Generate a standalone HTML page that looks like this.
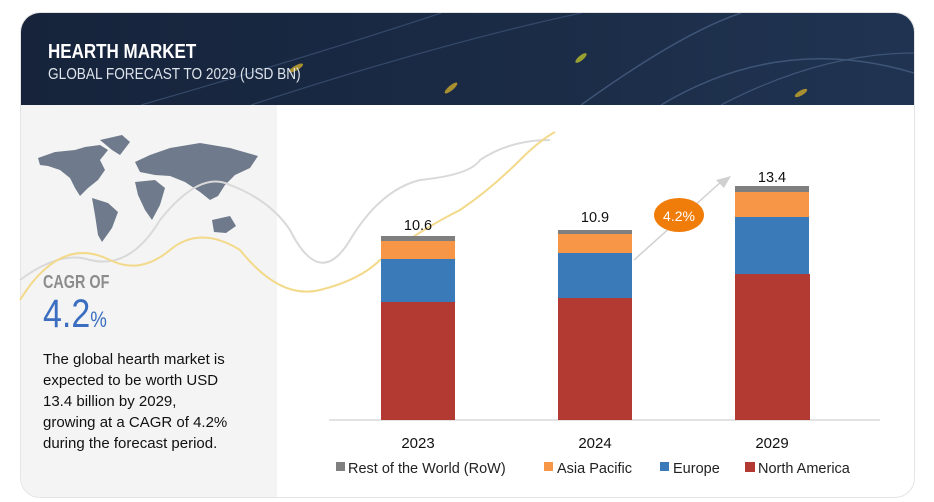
<!DOCTYPE html>
<html><head><meta charset="utf-8"><style>
body{margin:0;width:934px;height:502px;background:#fff;overflow:hidden;font-family:"Liberation Sans",sans-serif;position:relative}
.card{position:absolute;left:20px;top:12px;width:893px;height:484px;border-radius:20px;overflow:hidden;border:1px solid #e4e4e4;background:#fff}
.hdr{position:absolute;left:0;top:0;width:893px;height:92px;background:linear-gradient(90deg,#16233b,#1b2c47 60%,#203452)}
.lp{position:absolute;left:0;top:92px;width:256px;height:392px;background:#f4f4f4}
.t{position:absolute;white-space:nowrap}
</style></head><body>
<div class="card">
<div class="hdr">
<svg width="893" height="92" style="position:absolute;left:0;top:0">
<path d="M120 92 Q300 40 420 0" stroke="#34496a" stroke-width="1.2" fill="none"/>
<path d="M230 92 Q420 30 560 0" stroke="#34496a" stroke-width="1.2" fill="none"/>
<path d="M560 92 Q660 20 720 0" stroke="#3f5577" stroke-width="1.5" fill="none"/>
<path d="M640 92 Q760 20 893 60" stroke="#3f5577" stroke-width="1.5" fill="none"/>
<path d="M700 92 Q800 40 893 40" stroke="#3f5577" stroke-width="1.2" fill="none"/>
<ellipse cx="275" cy="55" rx="8" ry="2.5" fill="#a89030" transform="rotate(-30 275 55)"/>
<ellipse cx="430" cy="75" rx="8" ry="2.5" fill="#a89030" transform="rotate(-40 430 75)"/>
<ellipse cx="560" cy="45" rx="7" ry="2.5" fill="#98a030" transform="rotate(-40 560 45)"/>
<ellipse cx="780" cy="80" rx="7" ry="2.5" fill="#a89030" transform="rotate(-30 780 80)"/>
</svg>
<div class="t" style="left:27px;top:28px;color:#fff;font-size:20px;font-weight:bold;transform:scaleX(.85);transform-origin:left">HEARTH MARKET</div>
<div class="t" style="left:27px;top:53px;color:#dde3ea;font-size:15.5px;transform:scaleX(.88);transform-origin:left">GLOBAL FORECAST TO 2029 (USD BN)</div>
</div>
<div class="lp"></div>
</div>
<svg width="934" height="502" style="position:absolute;left:0;top:0">
<g fill="#6f7b8c">
<path d="M38 158 L55 152 L75 150 L85 147 L100 145 L108 150 L100 160 L105 170 L98 180 L88 188 L80 196 L75 188 L70 178 L60 170 L48 166 L40 165Z"/>
<path d="M100 140 L122 135 L130 142 L120 155 L112 150Z"/>
<path d="M92 198 L108 203 L118 212 L112 228 L102 242 L98 235 L95 215Z"/>
<path d="M135 162 L150 155 L170 148 L200 143 L230 148 L258 156 L250 168 L235 175 L225 185 L218 196 L210 200 L200 192 L185 182 L170 176 L155 175 L140 172Z"/>
<path d="M135 182 L155 180 L165 188 L160 205 L152 220 L145 210 L138 195Z"/>
<path d="M212 220 L230 216 L236 226 L226 233 L214 232Z"/>
</g>
<path d="M20 280 Q60 250 90 260 Q130 270 160 220 Q200 170 230 185 Q270 200 290 230 Q320 290 350 240 Q380 190 420 180 Q470 175 480 160 Q510 140 550 140" stroke="#d9d9d9" stroke-width="2" fill="none"/>
<path d="M20 300 Q60 235 110 260 Q140 275 170 250 Q200 225 240 250 Q280 300 320 290 Q360 280 380 260 Q420 230 460 210 Q490 190 520 160 Q540 140 555 132" stroke="#f3d98a" stroke-width="2" fill="none"/>
<line x1="329" y1="420" x2="880" y2="420" stroke="#d9d9d9" stroke-width="1.5"/>
<rect x="381" y="236" width="74" height="5" fill="#7f7f7f"/>
<rect x="381" y="241" width="74" height="18" fill="#f79646"/>
<rect x="381" y="259" width="74" height="43" fill="#3a7ab8"/>
<rect x="381" y="302" width="74" height="118" fill="#b33a33"/>
<rect x="558" y="230" width="74" height="4" fill="#7f7f7f"/>
<rect x="558" y="234" width="74" height="19" fill="#f79646"/>
<rect x="558" y="253" width="74" height="45" fill="#3a7ab8"/>
<rect x="558" y="298" width="74" height="122" fill="#b33a33"/>
<rect x="735" y="186" width="74" height="6" fill="#7f7f7f"/>
<rect x="735" y="192" width="74" height="25" fill="#f79646"/>
<rect x="735" y="217" width="74" height="57" fill="#3a7ab8"/>
<rect x="735" y="274" width="75" height="146" fill="#b33a33"/>
<line x1="634" y1="260" x2="722" y2="181" stroke="#d0d0d0" stroke-width="1.5"/>
<path d="M731 176 L716 180 L724 188Z" fill="#d0d0d0"/>
<ellipse cx="679" cy="215" rx="25" ry="17" fill="#f07c0a"/>
<text x="679" y="221" font-size="14" fill="#fff" text-anchor="middle" font-family="Liberation Sans">4.2%</text>
<g font-family="Liberation Sans" font-size="14.5" fill="#111" text-anchor="middle">
<text x="418" y="230">10.6</text><text x="595" y="222">10.9</text><text x="772" y="182">13.4</text>
<text x="418" y="448" font-size="15">2023</text><text x="595" y="448" font-size="15">2024</text><text x="772" y="448" font-size="15">2029</text>
</g>
<g font-family="Liberation Sans" font-size="14.5" fill="#222">
<rect x="336" y="462" width="9" height="9" fill="#7f7f7f"/><text x="348" y="473">Rest of the World (RoW)</text>
<rect x="544" y="462" width="9" height="9" fill="#f79646"/><text x="557" y="473">Asia Pacific</text>
<rect x="660" y="462" width="9" height="9" fill="#3a7ab8"/><text x="673" y="473">Europe</text>
<rect x="745" y="462" width="10" height="10" fill="#b33a33"/><text x="758" y="473">North America</text>
</g>
</svg>
<div class="t" style="left:43px;top:272px;color:#8c8c8c;font-size:18px;font-weight:bold;transform:scaleX(.8);transform-origin:left">CAGR OF</div>
<div class="t" style="left:43px;top:292px;color:#3b6ec0;font-size:40px;transform:scaleX(.85);transform-origin:left">4.2<span style="font-size:22px">%</span></div>
<div class="t" style="left:43px;top:349px;color:#111;font-size:15px;line-height:21px">The global hearth market is<br>expected to be worth USD<br>13.4 billion by 2029,<br>growing at a CAGR of 4.2%<br>during the forecast period.</div>
</body></html>
